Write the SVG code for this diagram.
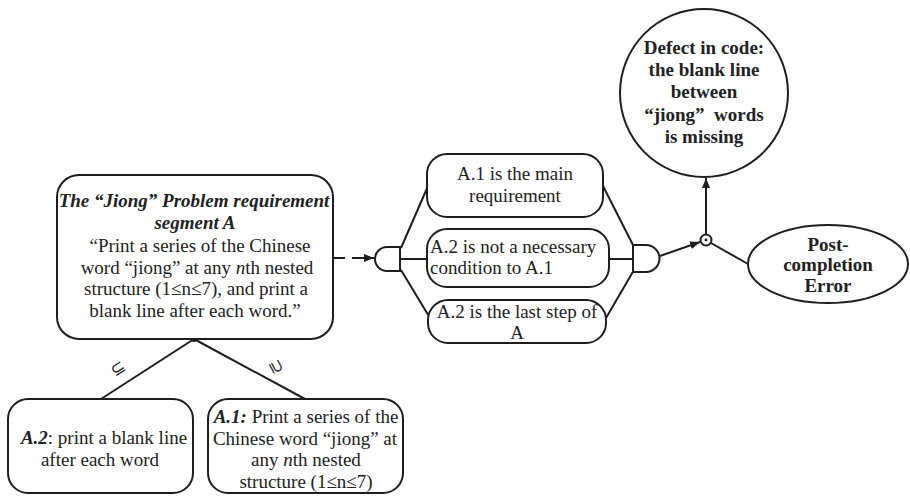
<svg xmlns="http://www.w3.org/2000/svg" width="910" height="496" viewBox="0 0 910 496" font-family="'Liberation Serif', 'DejaVu Serif', serif">
<defs>
<style>
.box{fill:#fff;stroke:#1e1e1e;stroke-width:2}
.ln{fill:none;stroke:#1e1e1e;stroke-width:2}
.t{font-family:'Liberation Serif',serif;font-size:19px;fill:#222}
.c{text-anchor:middle}
.b{font-weight:bold}
.bi{font-weight:bold;font-style:italic}
.i{font-style:italic}
</style>
<marker id="ah" viewBox="0 0 10 10" refX="10" refY="5" markerWidth="10" markerHeight="10" markerUnits="userSpaceOnUse" orient="auto">
<path d="M0,1 L10,5 L0,9 Z" fill="#1e1e1e"/>
</marker>
</defs>
<rect width="910" height="496" fill="#fff"/>

<g id="connectors">
<line class="ln" x1="333" y1="258" x2="374" y2="258" stroke-dasharray="12,7" marker-end="url(#ah)"/>
<line class="ln" x1="401" y1="248" x2="428" y2="186"/>
<line class="ln" x1="400" y1="259" x2="427" y2="259"/>
<line class="ln" x1="401" y1="270" x2="430" y2="318"/>
<line class="ln" x1="602" y1="184" x2="634" y2="247"/>
<line class="ln" x1="609" y1="259" x2="633" y2="259"/>
<line class="ln" x1="606" y1="318" x2="634" y2="270"/>
<line class="ln" x1="660" y1="256" x2="700" y2="242" marker-end="url(#ah)"/>
<line class="ln" x1="706" y1="234" x2="706" y2="178" marker-end="url(#ah)"/>
<line class="ln" x1="711" y1="243" x2="748" y2="264"/>
<line class="ln" x1="194" y1="339" x2="101" y2="399"/>
<line class="ln" x1="194" y1="339" x2="305" y2="399"/>
<circle cx="194" cy="339" r="3" fill="#1e1e1e"/>
<text class="t" x="0" y="0" style="font-size:17px" text-anchor="middle" transform="translate(121,373) rotate(-33)">⊆</text>
<text class="t" x="0" y="0" style="font-size:17px" text-anchor="middle" transform="translate(271,369) rotate(62)">⊇</text>
</g>

<g id="gate1">
<path class="box" d="M400,247 L387,247 A12,12 0 0 0 387,271 L400,271 Z"/>
</g>
<g id="gate2">
<path class="box" d="M633,245 L646,245 A13.5,13.5 0 0 1 646,272 L633,272 Z"/>
</g>
<g id="junction">
<circle class="box" cx="706" cy="240" r="5.5" stroke-width="1.5"/>
<circle cx="706" cy="240" r="1.4" fill="#1e1e1e"/>
</g>

<g id="segmentA">
<rect class="box" x="57" y="175" width="276" height="164" rx="22"/>
<text class="t c bi" x="194" y="207">The “Jiong” Problem requirement</text>
<text class="t c bi" x="195" y="229">segment A</text>
<text class="t c" x="200" y="252">“Print a series of the Chinese</text>
<text class="t c" x="197" y="274">word “jiong” at any <tspan class="i">n</tspan>th nested</text>
<text class="t c" x="196" y="295">structure (1≤n≤7), and print a</text>
<text class="t c" x="195" y="317">blank line after each word.”</text>
</g>

<g id="A2">
<rect class="box" x="8" y="399" width="185" height="94" rx="20"/>
<text class="t c" x="104" y="444"><tspan class="bi">A.2</tspan>: print a blank line</text>
<text class="t c" x="100" y="466">after each word</text>
</g>

<g id="A1">
<rect class="box" x="208" y="399" width="195" height="94" rx="20"/>
<text class="t c" x="306" y="423"><tspan class="bi">A.1:</tspan> Print a series of the</text>
<text class="t c" x="305" y="445">Chinese word “jiong” at</text>
<text class="t c" x="306" y="466">any <tspan class="i">n</tspan>th nested</text>
<text class="t c" x="306" y="488">structure (1≤n≤7)</text>
</g>

<g id="main">
<rect class="box" x="427" y="154" width="176" height="63" rx="20"/>
<text class="t c" x="515" y="180">A.1 is the main</text>
<text class="t c" x="515" y="202">requirement</text>
</g>

<g id="notNecessary">
<rect class="box" x="427" y="229" width="182" height="58" rx="20"/>
<text class="t" x="430" y="253">A.2 is not a necessary</text>
<text class="t" x="430" y="274">condition to A.1</text>
</g>

<g id="lastStep">
<rect class="box" x="428" y="300" width="178" height="43" rx="20"/>
<text class="t c" x="517" y="318">A.2 is the last step of</text>
<text class="t c" x="517" y="339">A</text>
</g>

<g id="defect">
<circle class="box" cx="704" cy="93" r="84"/>
<text class="t c b" x="704" y="54">Defect in code:</text>
<text class="t c b" x="704" y="76">the blank line</text>
<text class="t c b" x="704" y="98">between</text>
<text class="t c b" x="704" y="121" xml:space="preserve">“jiong”  words</text>
<text class="t c b" x="704" y="143">is missing</text>
</g>

<g id="postCompletion">
<ellipse class="box" cx="828" cy="264" rx="80" ry="39"/>
<text class="t c b" x="828" y="251">Post-</text>
<text class="t c b" x="828" y="271">completion</text>
<text class="t c b" x="828" y="292">Error</text>
</g>
</svg>
